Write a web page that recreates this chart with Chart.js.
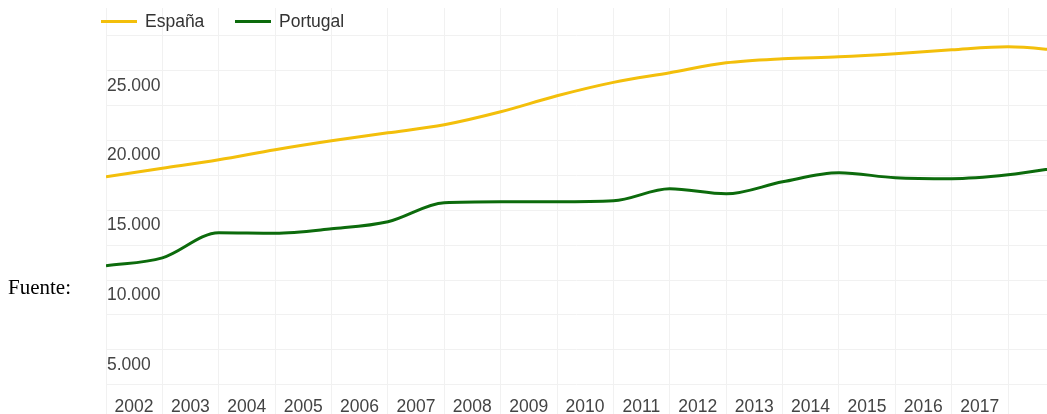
<!DOCTYPE html>
<html>
<head>
<meta charset="utf-8">
<script src="https://cdn.jsdelivr.net/npm/chart.js@4"></script>
<style>
  body { margin: 0; width: 1047px; height: 414px; overflow: hidden; background: #fff; position: relative; }
  #wrap { position: absolute; left: 0; top: 0; width: 1047px; height: 416px; }
  .fuente { position: absolute; left: 8px; top: 277px; font: 21px "Liberation Serif", "Times New Roman", serif; line-height: 21px; color: #000; }
  .legend { position: absolute; top: 11px; height: 20px; font: 17.5px "Liberation Sans", Arial, sans-serif; line-height: 20px; color: #333; }
  .legend span.sw { position: absolute; top: 9px; width: 36px; height: 3px; }
  .legend span.tx { position: absolute; left: 44px; white-space: nowrap; }
</style>
</head>
<body>
<div id="wrap"><canvas id="chart" width="1047" height="416"></canvas></div>
<div class="fuente">Fuente:</div>
<div id="legend"></div>
<script>
const years = [2002, 2003, 2004, 2005, 2006, 2007, 2008, 2009, 2010, 2011, 2012, 2013, 2014, 2015, 2016, 2017, 2018, 2019];
const espana = [17400, 18010, 18620, 19340, 19980, 20550, 21130, 22060, 23210, 24170, 24860, 25570, 25860, 26000, 26220, 26500, 26720, 26430];
const portugal = [11020, 11590, 13390, 13350, 13670, 14180, 15540, 15610, 15610, 15680, 16540, 16180, 17040, 17690, 17330, 17260, 17540, 18120];
const xGridYears = [2002, 2003, 2004, 2005, 2006, 2007, 2008, 2009, 2010, 2011, 2012, 2013, 2014, 2015, 2016, 2017, 2018];
const lastLabelYear = 2017;
const yGridValues = [2500, 5000, 7500, 10000, 12500, 15000, 17500, 20000, 22500, 25000, 27500];
const yLabelStep = 5000;

const seriesNames = ['España', 'Portugal'];
const seriesColors = ['#f3bf0b', '#0c6b0c'];

const toPoints = (vals) => vals.map((v, i) => ({ x: years[i], y: v }));

// legend sits over the top of the plot, so it is plain html
const legend = document.getElementById('legend');
const legendLeft = [101, 235];
seriesNames.forEach((name, i) => {
  const item = document.createElement('div');
  item.className = 'legend';
  item.style.left = legendLeft[i] + 'px';
  item.innerHTML = '<span class="sw" style="background:' + seriesColors[i] + '"></span><span class="tx">' + name + '</span>';
  legend.appendChild(item);
});

const gridColor = '#f1f1f1';
const tickFont = '"Liberation Sans", Arial, sans-serif';

new Chart(document.getElementById('chart'), {
  type: 'line',
  data: {
    datasets: [
      { label: seriesNames[0], data: toPoints(espana), borderColor: seriesColors[0], borderWidth: 3, pointRadius: 0, cubicInterpolationMode: 'monotone', fill: false },
      { label: seriesNames[1], data: toPoints(portugal), borderColor: seriesColors[1], borderWidth: 3, pointRadius: 0, cubicInterpolationMode: 'monotone', fill: false }
    ]
  },
  options: {
    responsive: false,
    animation: false,
    layout: { padding: { left: 104, top: 8, right: 0, bottom: 0 } },
    plugins: { legend: { display: false }, tooltip: { enabled: false } },
    scales: {
      x: {
        type: 'linear',
        min: 2002,
        max: 2018.69,
        afterBuildTicks: (axis) => { axis.ticks = xGridYears.map(v => ({ value: v })); },
        afterFit: (axis) => { axis.height = 17.4; },
        border: { display: false },
        grid: { color: gridColor, drawTicks: true, tickLength: 16 },
        ticks: {
          autoSkip: false,
          maxRotation: 0,
          labelOffset: 28, // labels sit in the middle of each year
          padding: -16.35,
          color: '#444',
          font: { family: tickFont, size: 17.5, lineHeight: 1 },
          callback: (v) => v <= lastLabelYear ? String(v) : ''
        }
      },
      y: {
        type: 'linear',
        min: 1500,
        max: 29500,
        afterBuildTicks: (axis) => { axis.ticks = yGridValues.map(v => ({ value: v })); },
        border: { display: false },
        grid: { color: gridColor, drawTicks: false },
        ticks: {
          mirror: true,
          padding: 1,
          labelOffset: 15,
          color: '#444',
          font: { family: tickFont, size: 17.5, lineHeight: 0.5 },
          callback: (v) => v % yLabelStep === 0 ? v.toLocaleString('de-DE') : ''
        }
      }
    }
  }
});
</script>
</body>
</html>
